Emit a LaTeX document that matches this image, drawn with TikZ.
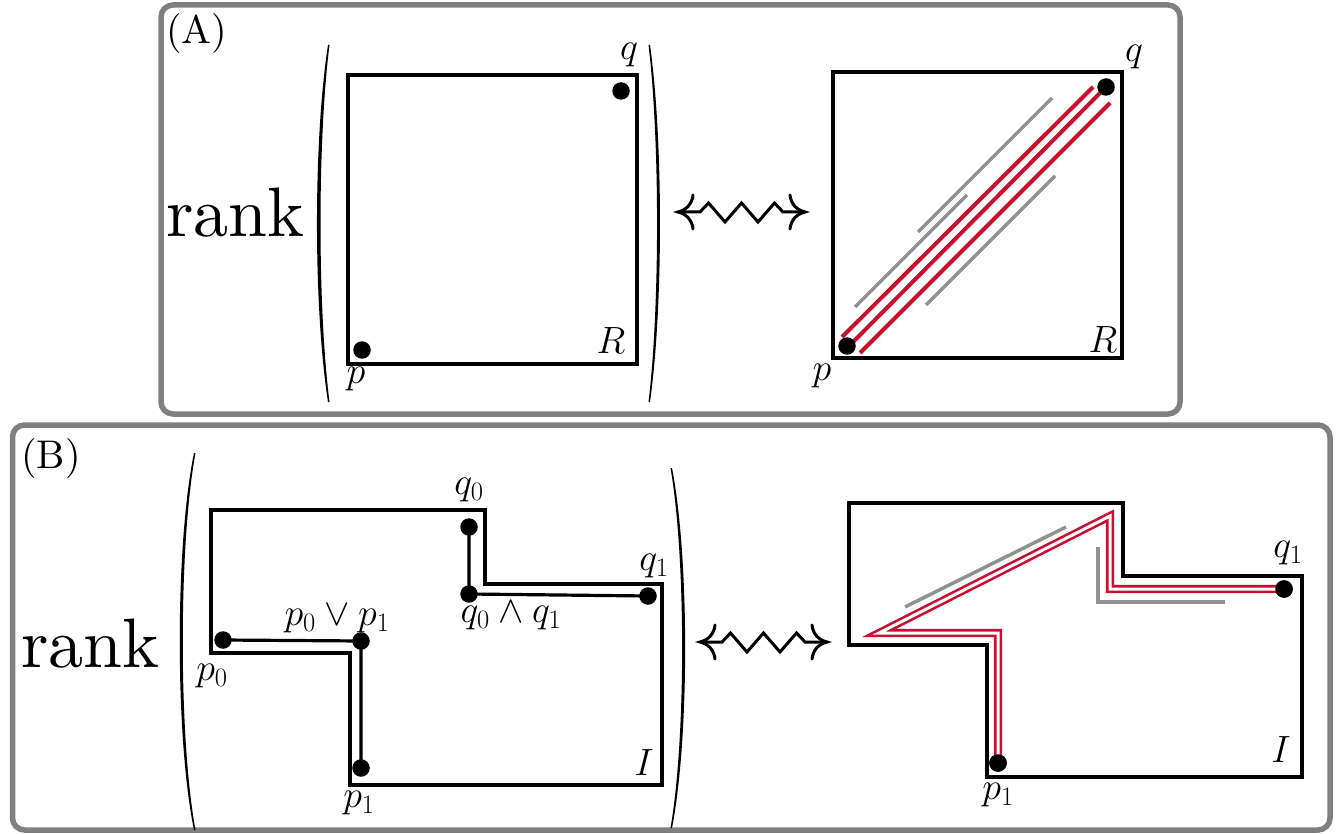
\documentclass[tikz,border=0pt]{standalone}
\usepackage{fix-cm}
\usepackage{fontspec}
\newfontfamily\tenrm{lmroman10-regular.otf}
\definecolor{crim}{RGB}{200,16,46}
\definecolor{boxgray}{RGB}{128,128,128}
\definecolor{lgray}{RGB}{145,145,145}
\begin{document}
\begin{tikzpicture}[x=1pt,y=-1pt,
  panel/.style={draw=boxgray,line width=5.5pt,rounded corners=12pt},
  regionline/.style={draw=black,line width=3.6pt},
  walkline/.style={draw=black,line width=3.2pt},
  blackdot/.style={circle,fill=black,inner sep=0pt,minimum size=17.5pt},
  lab/.style={inner sep=0pt,font=\fontsize{38}{42}\selectfont},
  tag/.style={inner sep=0pt,font=\tenrm\fontsize{40}{46}\selectfont},
  bigtext/.style={inner sep=0pt,font=\tenrm\fontsize{70}{80}\selectfont},
  redl/.style={draw=crim,line width=4pt},
  grayl/.style={draw=lgray,line width=3.5pt},
  dbl/.style={draw=crim,line width=2.6pt,double=white,double distance=3pt,line join=miter},
  squig/.style={draw=black,line width=3pt,line join=miter},
  squigpic/.pic={
    \draw[squig] (-63.5,0) -- (-41.5,0) -- (-33,-9) -- (-16.5,10) -- (0,-9) -- (16.5,10) -- (33,-9) -- (41.5,0) -- (63.5,0);
    \draw[squig,line cap=round] (-48.5,-17) .. controls (-49.5,-8) and (-55,-2) .. (-63.5,0) .. controls (-55,2) and (-49.5,8) .. (-48.5,17);
    \draw[squig,line cap=round] (48.5,-17) .. controls (49.5,-8) and (55,-2) .. (63.5,0) .. controls (55,2) and (49.5,8) .. (48.5,17);
  }
]
\useasboundingbox (0,0) rectangle (1341,834);

% panels
\draw[panel] (161,5) rectangle (1180,414);
\draw[panel] (12.5,425) rectangle (1330,830);

\node[tag,anchor=base west] (labA) at (166,44) {(A)};
\node[tag,anchor=base west] (labB) at (21,468) {(B)};

% ---------- Panel A ----------
\node[bigtext,anchor=base west] (rankA) at (166,237) {rank};
% parentheses
\fill (328,45) .. controls (313.3,140) and (313.3,307) .. (328,402) -- (329.5,402) .. controls (317.5,307) and (317.5,140) .. (329.5,45) -- cycle;
\fill (650,45) .. controls (663.3,140) and (663.3,307) .. (650,402) -- (648.5,402) .. controls (659.9,307) and (659.9,140) .. (648.5,45) -- cycle;

\draw[regionline] (348,75) rectangle (637,364);
\node[blackdot] (qA) at (621,91) {};
\node[blackdot] (pA) at (362,350) {};
\node[lab] (qAl) at (629,55) {$q$};
\node[lab] (pAl) at (356,379) {$p$};
\node[lab] (RAl) at (611,341) {$R$};

\pic at (741.5,212) {squigpic};

% right square
\draw[regionline] (833,72) rectangle (1122,358);
\draw[grayl] (855,307) -- (967,195);
\draw[grayl] (918,232) -- (1052,98);
\draw[grayl] (926,305) -- (1055,176);
\draw[redl] (842,337) -- (1093,87);
\draw[redl] (853,342) -- (1100,93);
\draw[redl] (860,353) -- (1110,103);
\node[blackdot] (qB) at (1106,87) {};
\node[blackdot] (pB) at (847,346) {};
\node[lab] (qBl) at (1134,57) {$q$};
\node[lab] (pBl) at (822,376) {$p$};
\node[lab] (RBl) at (1103,340) {$R$};

% ---------- Panel B ----------
\node[bigtext,anchor=base west] (rankB) at (21,667) {rank};
\fill (194,453) .. controls (175,545) and (175,738) .. (194,830) -- (195.5,830) .. controls (178.5,738) and (178.5,545) .. (195.5,453) -- cycle;
\fill (672,468) .. controls (689.5,558) and (689.5,738) .. (672,828) -- (670.5,828) .. controls (686,738) and (686,558) .. (670.5,468) -- cycle;

\draw[regionline] (211,510) -- (485,510) -- (485,584) -- (662,584) -- (662,785) -- (350,785) -- (350,653) -- (211,653) -- cycle;
\node[blackdot] (p0) at (223,640) {};
\node[blackdot] (pv) at (361,641) {};
\node[blackdot] (p1) at (361,768) {};
\node[blackdot] (q0) at (469,527) {};
\node[blackdot] (qw) at (469,594) {};
\node[blackdot] (q1) at (648,596) {};
\draw[walkline] (p0.center) -- (pv.center) -- (p1.center);
\draw[walkline] (q0.center) -- (qw.center) -- (q1.center);
\node[lab] (q0l) at (469,490) {$q_0$};
\node[lab] (qwl) at (511,616) {$q_0\wedge q_1$};
\node[lab] (pvl) at (337,619) {$p_0\vee p_1$};
\node[lab] (p0l) at (212,676) {$p_0$};
\node[lab] (p1l) at (359,803) {$p_1$};
\node[lab] (q1l) at (654,566) {$q_1$};
\node[lab] (Il) at (644,763) {$I$};

\pic at (763.5,642) {squigpic};

% right region
\draw[regionline] (849,503) -- (1123,503) -- (1123,576) -- (1302,576) -- (1302,777) -- (987,777) -- (987,645) -- (849,645) -- cycle;
\draw[grayl] (905,607) -- (1066,527);
\draw[grayl] (1098,547) -- (1098,602) -- (1225,602);
\node[blackdot] (q1r) at (1284,589) {};
\node[blackdot] (p1r) at (998,763) {};
\coordinate (c1) at (1110,589);
\coordinate (c2) at (1110,516);
\coordinate (c3) at (879,633);
\coordinate (c4) at (998,633);
\draw[dbl] (q1r.center) -- (c1) -- (c2) -- (c3) -- (c4) -- (p1r.center);
\node[blackdot] at (q1r) {};
\node[blackdot] at (p1r) {};
\node[lab] (q1rl) at (1288,553) {$q_1$};
\node[lab] (p1rl) at (998,795) {$p_1$};
\node[lab] (Irl) at (1281,750) {$I$};
\end{tikzpicture}
\end{document}
